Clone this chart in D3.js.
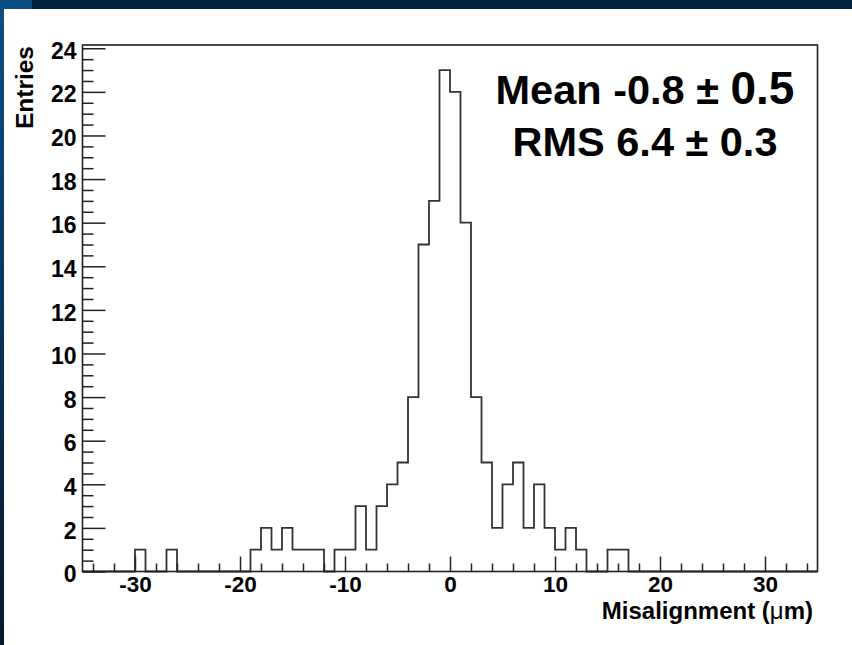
<!DOCTYPE html>
<html>
<head>
<meta charset="utf-8">
<script src="https://cdn.jsdelivr.net/npm/d3@7"></script>
<style>
  body { margin: 0; background: #fff; }
  svg { display: block; }
  text { font-family: "Liberation Sans", Arial, sans-serif; font-weight: bold; fill: #000; }
</style>
</head>
<body>
<div id="chart"></div>
<script>
// histogram: 70 bins of width 1 from -35 to 35
var binLow = -35, binHigh = 35;
var counts = [
    0, 0, 0, 0, 0, 1, 0, 0, 1, 0,
    0, 0, 0, 0, 0, 0, 1, 2, 1, 2,
    1, 1, 1, 0, 1, 1, 3, 1, 3, 4,
    5, 8, 15, 17, 23, 22, 16, 8, 5, 2,
    4, 5, 2, 4, 2, 1, 2, 1, 0, 0,
    1, 1, 0, 0, 0, 0, 0, 0, 0, 0,
    0, 0, 0, 0, 0, 0, 0, 0, 0, 0
];
var xMajor = [-30, -20, -10, 0, 10, 20, 30];
var yMajor = [0, 2, 4, 6, 8, 10, 12, 14, 16, 18, 20, 22, 24];
var statLines = ["Mean -0.8 \u00b1 ", "RMS 6.4 \u00b1 0.3"];
var meanErr = "0.5";

var W = 852, H = 645;
var svg = d3.select("#chart").append("svg")
    .attr("width", W)
    .attr("height", H);

// slide background bits
var grad = svg.append("defs").append("linearGradient")
    .attr("id", "side").attr("x1", 0).attr("y1", 0).attr("x2", 0).attr("y2", 1);
grad.append("stop").attr("offset", "0%").attr("stop-color", "#0b4f85");
grad.append("stop").attr("offset", "100%").attr("stop-color", "#05192b");
svg.append("rect").attr("x", 0).attr("y", 0).attr("width", W).attr("height", 9).attr("fill", "#02233f");
svg.append("rect").attr("x", 0).attr("y", 0).attr("width", 32).attr("height", 9).attr("fill", "#0b4f85");
svg.append("rect").attr("x", 0).attr("y", 0).attr("width", 4).attr("height", H).attr("fill", "url(#side)");

var x = d3.scaleLinear().domain([binLow, binHigh]).range([82.5, 817.5]);
var yMax = d3.max(counts) * 1.05;
var y = d3.scaleLinear().domain([0, yMax]).range([571.5, 45]);

var bw = (binHigh - binLow) / counts.length;
var pts = counts.map(function (c, i) { return [binLow + i * bw, c]; });
pts.push([binHigh, counts[counts.length - 1]]);

var line = d3.line()
    .x(function (d) { return x(d[0]); })
    .y(function (d) { return y(d[1]); })
    .curve(d3.curveStepAfter);

svg.append("path")
    .attr("d", line(pts))
    .attr("fill", "none")
    .attr("stroke", "#333")
    .attr("stroke-width", 1.8);

// plain hyphen for negatives, like the original
var fmt = function (d) { return String(d); };

// x axis: majors every 10, minors every 2
var xMinor = d3.range(-34, 35, 2).filter(function (v) { return v % 10 !== 0; });
var gx = svg.append("g").attr("transform", "translate(0," + y(0) + ")");
gx.call(d3.axisBottom(x).tickValues(xMajor).tickFormat(fmt).tickSize(-15).tickPadding(5));
gx.append("g").call(d3.axisBottom(x).tickValues(xMinor).tickSize(-8).tickFormat(""));

// y axis: majors every 2, minors every 0.5
var yMinor = d3.range(0.5, 24.1, 0.5).filter(function (v) { return v % 2 !== 0; });
var gy = svg.append("g").attr("transform", "translate(" + x(binLow) + ",0)");
gy.call(d3.axisLeft(y).tickValues(yMajor).tickFormat(fmt).tickSize(-23).tickPadding(6));
gy.append("g").call(d3.axisLeft(y).tickValues(yMinor).tickSize(-11).tickFormat(""));

svg.selectAll(".domain").remove();
svg.selectAll(".tick line").attr("stroke", "#222").attr("stroke-width", 1.5);
svg.selectAll(".tick text").attr("font-size", 22.5).attr("fill", "#000")
    .attr("font-family", "'Liberation Sans', Arial, sans-serif").attr("font-weight", "bold");
gy.selectAll(".tick text").attr("font-size", 23).attr("dy", "0.44em");

// frame
svg.append("rect")
    .attr("x", x(binLow)).attr("y", y(yMax))
    .attr("width", x(binHigh) - x(binLow))
    .attr("height", y(0) - y(yMax))
    .attr("fill", "none")
    .attr("stroke", "#222")
    .attr("stroke-width", 1.6);

// axis titles
svg.append("text")
    .attr("transform", "translate(33,46) rotate(-90)")
    .attr("text-anchor", "end")
    .attr("font-size", 24.5)
    .text("Entries");

var xt = svg.append("text")
    .attr("x", 813).attr("y", 619)
    .attr("text-anchor", "end")
    .attr("font-size", 24);
xt.append("tspan").text("Misalignment (");
xt.append("tspan").attr("font-weight", "normal").text("\u03bc");
xt.append("tspan").text("m)");

// stats
var st = svg.append("text")
    .attr("x", 645).attr("y", 103.5)
    .attr("text-anchor", "middle")
    .attr("font-size", 41.5);
st.append("tspan").text(statLines[0]);
st.append("tspan").attr("font-size", 46).text(meanErr);

svg.append("text")
    .attr("x", 645).attr("y", 156)
    .attr("text-anchor", "middle")
    .attr("font-size", 41.5)
    .text(statLines[1]);
</script>
</body>
</html>
